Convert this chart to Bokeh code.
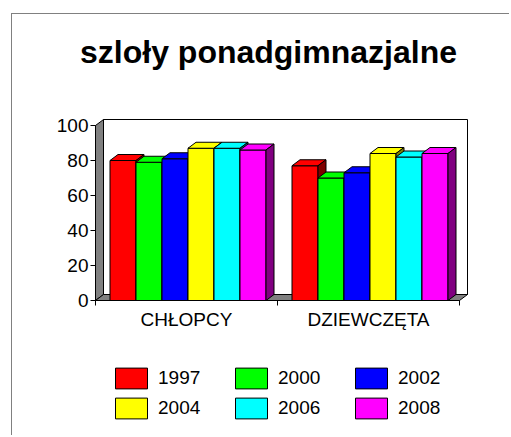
from bokeh.plotting import figure
from bokeh.models import (FixedTicker, Legend, LegendItem, Range1d)
from bokeh.embed import file_html
from bokeh.resources import INLINE
from bokeh.core.properties import value

# ---------------- data ----------------
title_text = "szloły ponadgimnazjalne"
categories = ["CHŁOPCY", "DZIEWCZĘTA"]
years = ["1997", "2000", "2002", "2004", "2006", "2008"]
v1997 = [80, 77]
v2000 = [79, 70]
v2002 = [81, 73]
v2004 = [87, 84]
v2006 = [87, 82]
v2008 = [86, 84]
y_ticks = [0, 20, 40, 60, 80, 100]

series = [v1997, v2000, v2002, v2004, v2006, v2008]
front_colors = ["#FF0000", "#00FF00", "#0000FF", "#FFFF00", "#00FFFF", "#FF00FF"]
side_colors = ["#800000", "#008000", "#000080", "#808000", "#008080", "#800080"]

FONT = "Liberation Sans"

# ---------------- geometry ----------------
W, H = 498, 422                 # canvas size
CX0, CY0 = 12, 14               # canvas position on the page
AX_X, AX_Y = 95, 300            # page position of the data origin (0, 0)
PX_X = 182.0                    # pixels per category unit
PX_Y = 1.75                     # pixels per value unit
DX = 8 / PX_X                   # 3-D depth offset, x
DY = 6 / PX_Y                   # 3-D depth offset, y
BAR_W = 26 / PX_X
OFF = 14.5 / PX_X

x_start = -(AX_X - CX0) / PX_X
x_end = x_start + W / PX_X
y_start = -((CY0 + H) - AX_Y) / PX_Y
y_end = y_start + H / PX_Y


def px2x(px):
    return (px - AX_X) / PX_X


def px2y(py):
    return (AX_Y - py) / PX_Y


n_cat = len(categories)
ymax = y_ticks[-1]

p = figure(width=W, height=H, output_backend="svg", toolbar_location=None,
           x_range=Range1d(x_start, x_end), y_range=Range1d(y_start, y_end),
           min_border=0, min_border_left=0, min_border_right=0,
           min_border_top=0, min_border_bottom=0)
p.margin = (13, 0, 0, 11)
p.styles = {"border-left": "1px solid #808080", "border-top": "1px solid #808080"}
p.outline_line_color = None
p.xgrid.visible = False
p.ygrid.visible = False
p.background_fill_color = "white"
p.border_fill_color = "white"

# title
p.text(x=[px2x(268)], y=[px2y(51)], text=[title_text],
       text_font=value(FONT), text_font_style="bold", text_font_size="32px",
       text_align="center", text_baseline="alphabetic", text_color="black")

# walls and floor
p.patch([DX, n_cat + DX, n_cat + DX, DX], [DY, DY, ymax + DY, ymax + DY],
        fill_color="white", line_color="black", line_width=1)
p.patch([0, 0, DX, DX], [0, ymax, ymax + DY, DY],
        fill_color="#808080", line_color="black", line_width=1)
p.patch([0, n_cat, n_cat + DX, DX], [0, 0, DY, DY],
        fill_color="#808080", line_color="black", line_width=1)

# bars
items = []
for j, vals in enumerate(series):
    lefts = [g + OFF + j * BAR_W for g in range(n_cat)]
    rights = [l + BAR_W for l in lefts]
    r = p.quad(left=lefts, right=rights, bottom=[0] * n_cat, top=vals,
               fill_color=front_colors[j], line_color="black", line_width=1)
    tops_x = [[l, rr, rr + DX, l + DX] for l, rr in zip(lefts, rights)]
    tops_y = [[v, v, v + DY, v + DY] for v in vals]
    p.patches(tops_x, tops_y, fill_color=front_colors[j], line_color="black", line_width=1)
    side_x = [[rr, rr + DX, rr + DX, rr] for rr in rights]
    side_y = [[0, DY, v + DY, v] for v in vals]
    p.patches(side_x, side_y, fill_color=side_colors[j], line_color="black", line_width=1)
    items.append(LegendItem(label=years[j], renderers=[r]))

# y axis
ya = p.yaxis[0]
ya.fixed_location = 0
ya.ticker = FixedTicker(ticks=y_ticks)
ya.bounds = (0, ymax)
ya.major_label_text_font = FONT
ya.major_label_text_font_size = "19px"
ya.major_label_text_color = "black"
ya.major_tick_out = 5
ya.major_tick_in = 0
ya.minor_tick_out = 0
ya.minor_tick_in = 0
ya.major_label_standoff = 2
ya.axis_line_color = "black"
ya.major_tick_line_color = "black"

# x axis
xa = p.xaxis[0]
xa.fixed_location = 0
xa.ticker = FixedTicker(ticks=[g + 0.5 for g in range(n_cat)],
                        minor_ticks=list(range(n_cat + 1)))
xa.major_label_overrides = {g + 0.5: c for g, c in enumerate(categories)}
xa.bounds = (0, n_cat)
xa.major_tick_out = 0
xa.major_tick_in = 0
xa.minor_tick_out = 5
xa.minor_tick_in = 0
xa.major_label_standoff = 3
xa.major_label_text_font = FONT
xa.major_label_text_font_size = "19px"
xa.major_label_text_color = "black"
xa.axis_line_color = "black"
xa.minor_tick_line_color = "black"

# legend (inside the full-canvas frame)
legend = Legend(items=items, orientation="horizontal", ncols=3,
                location=(111 - CX0, (CY0 + H) - 421), glyph_width=40, glyph_height=26,
                label_standoff=7, spacing=4, label_height=26, label_width=69,
                padding=0, margin=0, border_line_color=None,
                background_fill_alpha=0,
                label_text_font=FONT, label_text_font_size="19px",
                label_text_color="black")
p.add_layout(legend, "center")

open("out.html", "w").write(file_html(p, INLINE))
